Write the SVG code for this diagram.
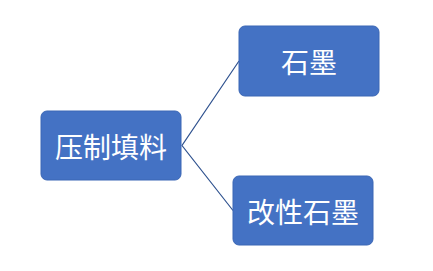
<svg xmlns="http://www.w3.org/2000/svg" width="433" height="271" viewBox="0 0 433 271">
<style>
.box{fill:#4472C4;stroke:#3A66B5;stroke-width:1}
.t{font-family:"Noto Sans CJK SC","Microsoft YaHei",sans-serif;font-size:28px;fill:#fff;text-anchor:middle;dominant-baseline:central}
.c{stroke:#2F528F;stroke-width:1.2;fill:none}
</style>
<rect width="433" height="271" fill="#fff"/>
<g id="connectors">
<polyline class="c" points="239,61 182,145.5 233,210.5"/>
</g>
<g id="n1"><rect class="box" x="41" y="111" width="140" height="69" rx="6"/><text class="t" x="111" y="145.5">压制填料</text></g>
<g id="n2"><rect class="box" x="239" y="26" width="140" height="70" rx="6"/><text class="t" x="309" y="61">石墨</text></g>
<g id="n3"><rect class="box" x="233" y="176" width="140" height="69" rx="6"/><text class="t" x="303" y="210.5">改性石墨</text></g>
</svg>
